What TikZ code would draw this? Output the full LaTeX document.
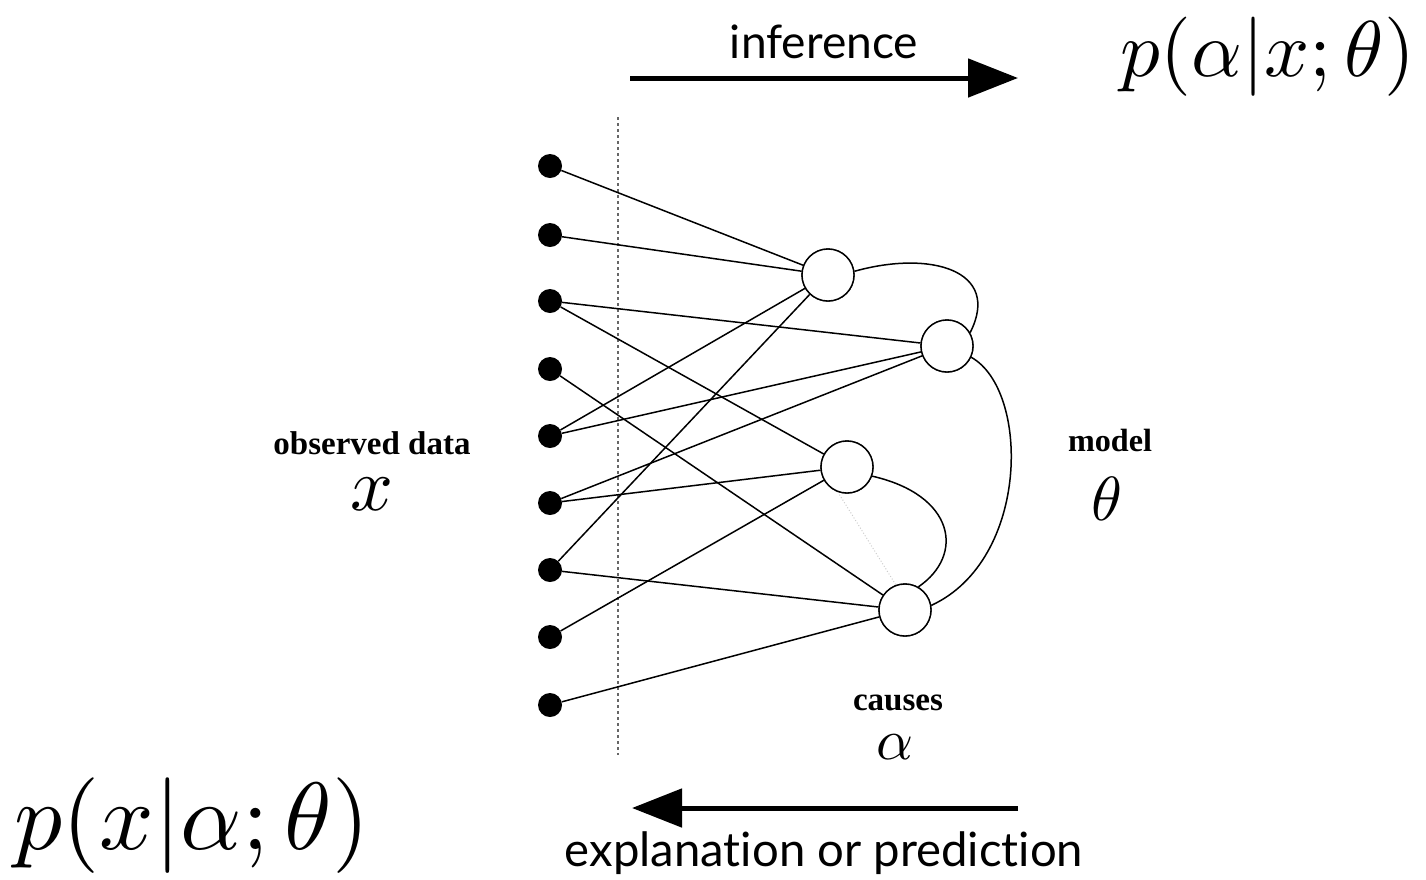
\documentclass[tikz,border=0pt]{standalone}
\usepackage{fontspec}
\setmainfont{Liberation Serif}
\newfontfamily\lato[Ligatures={NoCommon}]{Lato}
\usetikzlibrary{arrows.meta}
\newcommand{\fitw}[2]{\resizebox{#1}{!}{#2}}
\tikzset{
  dat/.style={circle,fill=black,inner sep=0pt,minimum size=24pt},
  hid/.style={circle,draw,line width=1.4pt,fill=white,inner sep=0pt,minimum size=52pt},
  edge/.style={line width=1.5pt},
  bigarrow/.style={line width=5pt,-{Triangle[length=50pt,width=38pt]}},
  lab/.style={inner sep=0pt,anchor=center}
}
\begin{document}
\begin{tikzpicture}[x=1pt,y=-1pt]
\useasboundingbox (0,0) rectangle (1426,879);
% dotted separator
\coordinate (sepT) at (618,117);
\coordinate (sepB) at (618,755);
\draw[black!60,line width=2.6pt,dash pattern=on 2.6pt off 3.4pt] (sepT) -- (sepB);
% data nodes
\foreach \i/\y in {1/166,2/235,3/301,4/369,5/436,6/503,7/570,8/637,9/705}
  \node[dat] (d\i) at (550,\y) {};
% hidden nodes
\node[hid] (A) at (828,275) {};
\node[hid] (B) at (947,346) {};
\node[hid] (C) at (847,467) {};
\node[hid] (D) at (905,610) {};
% faint dotted link
\draw[gray!40,dotted,line width=1pt] (C.-110) -- (D.110);
% edges
\foreach \s/\t in {d1/A,d2/A,d3/B,d3/C,d4/D,d5/A,d5/B,d6/B,d6/C,d7/A,d7/D,d8/C,d9/D}
  \draw[edge] (\s) -- (\t);
% redraw hidden nodes on top
\node[hid] at (828,275) {};
\node[hid] at (947,346) {};
\node[hid] at (847,467) {};
\node[hid] at (905,610) {};
% curves
\draw[edge] (A.8) .. controls (930,250) and (1002,270) .. (B.30);
\draw[edge] (B.-25) .. controls (1030,390) and (1030,560) .. (D.10);
\draw[edge] (C.-20) .. controls (955,495) and (965,555) .. (D.60);
% arrows
\coordinate (a1s) at (630,78);
\coordinate (a1e) at (1018,78);
\draw[bigarrow] (a1s) -- (a1e);
\coordinate (a2s) at (1018,808);
\coordinate (a2e) at (632,808);
\draw[bigarrow] (a2s) -- (a2e);
% texts
\node[lab] (tinf) at (824,42) {\fitw{188pt}{\lato inference}};
\node[lab] (texp) at (824,853) {\fitw{518pt}{\lato explanation or prediction}};
\node[lab] (ptop) at (1268,57) {\fitw{294pt}{$p(\alpha|x;\theta)$}};
\node[lab] (pbot) at (192,826) {\fitw{355pt}{$p(x|\alpha;\theta)$}};
\node[lab] (tobs) at (372,443) {\fitw{197pt}{\bfseries observed data}};
\node[lab] (tx) at (372,494) {\fitw{43pt}{$x$}};
\node[lab] (tmod) at (1110,440) {\fitw{84pt}{\bfseries model}};
\node[lab] (tth) at (1107,499) {\fitw{31pt}{$\theta$}};
\node[lab] (tcau) at (898,703) {\fitw{90pt}{\bfseries causes}};
\node[lab] (tal) at (895,747) {\fitw{37pt}{$\alpha$}};
\end{tikzpicture}
\end{document}
